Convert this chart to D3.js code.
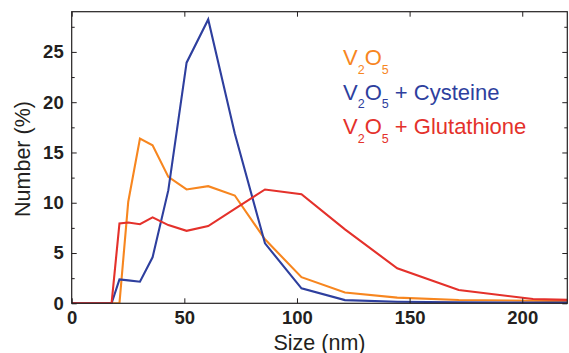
<!DOCTYPE html>
<html>
<head>
<meta charset="utf-8">
<script src="https://cdn.jsdelivr.net/npm/d3@7"></script>
<style>
  html, body { margin: 0; padding: 0; background: #fff; }
  svg { display: block; font-family: "Liberation Sans", Arial, Helvetica, sans-serif; }
</style>
</head>
<body>
<svg id="chart" width="569" height="353"></svg>
<script>
// Particle size bins (nm) from the size distribution measurement
const sizes = [0, 17.7, 21.2, 25.1, 30.3, 35.9, 42.9, 51.0, 60.6, 72.4, 85.8, 102.0, 121.3, 144.5, 171.8, 204.8, 243.0];

// Number distribution (%) per bin for each sample
const v2o5 =        [0, 0, 0,    10.1, 16.38, 15.72, 12.57, 11.32, 11.65, 10.72, 6.36, 2.6,  1.07, 0.56, 0.33, 0.26, 0.16];
const cysteine =    [0, 0, 2.38, 2.28, 2.15,  4.57,  11.25, 23.93, 28.23, 16.88, 5.96, 1.49, 0.32, 0.16, 0.1,  0.08, 0.06];
const glutathione = [0, 0, 7.94, 8.04, 7.87,  8.54,  7.78,  7.21,  7.68,  9.38, 11.32, 10.85, 7.35, 3.48, 1.32, 0.43, 0.22];

const xTicks = [0, 50, 100, 150, 200];
const yTicks = [0, 5, 10, 15, 20, 25];
const yMinorTicks = [2.5, 7.5, 12.5, 17.5, 22.5, 27.5];

const seriesList = [
  { name: "V2O5", extra: "", values: v2o5, color: "#f7861f" },
  { name: "V2O5", extra: " + Cysteine", values: cysteine, color: "#2e3f9e" },
  { name: "V2O5", extra: " + Glutathione", values: glutathione, color: "#e4312b" }
];

const svg = d3.select("#chart");
const margin = { left: 71.7, right: 1.7, top: 11.7, bottom: 49.7 };
const W = 569, H = 353;
const x = d3.scaleLinear().domain([0, 220]).range([margin.left, W - margin.right]);
const y = d3.scaleLinear().domain([0, 29]).range([H - margin.bottom, margin.top]);

const axisColor = "#231f20";

svg.append("defs").append("clipPath").attr("id", "plot-clip")
  .append("rect")
  .attr("x", x(0)).attr("y", y(29))
  .attr("width", x(220) - x(0)).attr("height", y(0) - y(29));

// Data lines
const line = d3.line().x((d, i) => x(sizes[i])).y(d => y(d));
const lines = svg.append("g").attr("clip-path", "url(#plot-clip)");
seriesList.forEach(s => {
  lines.append("path")
    .datum(s.values)
    .attr("d", line)
    .attr("fill", "none")
    .attr("stroke", s.color)
    .attr("stroke-width", 2.1)
    .attr("stroke-linejoin", "miter");
});

// Axes: ticks point inward, mirrored on top and right
const tickFont = g => g.selectAll("text")
  .attr("font-size", "18.5px").attr("font-weight", "bold").attr("fill", "#231f20");

const bottomAxis = svg.append("g").attr("transform", `translate(0,${y(0)})`)
  .call(d3.axisBottom(x).tickValues(xTicks).tickSize(-5).tickPadding(8).tickFormat(d3.format("d")));
bottomAxis.call(tickFont);

svg.append("g").attr("transform", `translate(0,${y(29)})`)
  .call(d3.axisTop(x).tickValues(xTicks).tickSize(-5).tickFormat(""));

const leftAxis = svg.append("g").attr("transform", `translate(${x(0)},0)`)
  .call(d3.axisLeft(y).tickValues(yTicks).tickSize(-5).tickPadding(8).tickFormat(d3.format("d")));
leftAxis.call(tickFont);
svg.append("g").attr("transform", `translate(${x(0)},0)`)
  .call(d3.axisLeft(y).tickValues(yMinorTicks).tickSize(-3).tickFormat(""));

svg.append("g").attr("transform", `translate(${x(220)},0)`)
  .call(d3.axisRight(y).tickValues(yTicks).tickSize(-5).tickFormat(""));
svg.append("g").attr("transform", `translate(${x(220)},0)`)
  .call(d3.axisRight(y).tickValues(yMinorTicks).tickSize(-3).tickFormat(""));

svg.selectAll(".domain").remove();
svg.selectAll(".tick line").attr("stroke", axisColor).attr("stroke-width", 1);

// Plot frame
svg.append("rect")
  .attr("x", x(0)).attr("y", y(29))
  .attr("width", x(220) - x(0)).attr("height", y(0) - y(29))
  .attr("fill", "none").attr("stroke", axisColor).attr("stroke-width", 1.2);

// Axis titles
svg.append("text")
  .attr("x", (x(0) + x(220)) / 2).attr("y", 349.5)
  .attr("text-anchor", "middle").attr("font-size", "21.5px").attr("fill", "#231f20")
  .text("Size (nm)");

svg.append("text")
  .attr("transform", `translate(29.5,${159}) rotate(-90)`)
  .attr("text-anchor", "middle").attr("font-size", "21.5px").attr("fill", "#231f20")
  .text("Number (%)");

// Legend with subscripted formula
const legendX = 343, legendY = [65, 99.5, 134];
seriesList.forEach((s, i) => {
  const t = svg.append("text")
    .attr("x", legendX).attr("y", legendY[i])
    .attr("font-size", "22px").attr("fill", s.color);
  t.append("tspan").text("V");
  t.append("tspan").attr("font-size", "12.5px").attr("dy", 8.5).text("2");
  t.append("tspan").attr("dy", -8.5).text("O");
  t.append("tspan").attr("font-size", "12.5px").attr("dy", 8.5).text("5");
  if (s.extra) t.append("tspan").attr("dy", -8.5).text(s.extra);
});
</script>
</body>
</html>
